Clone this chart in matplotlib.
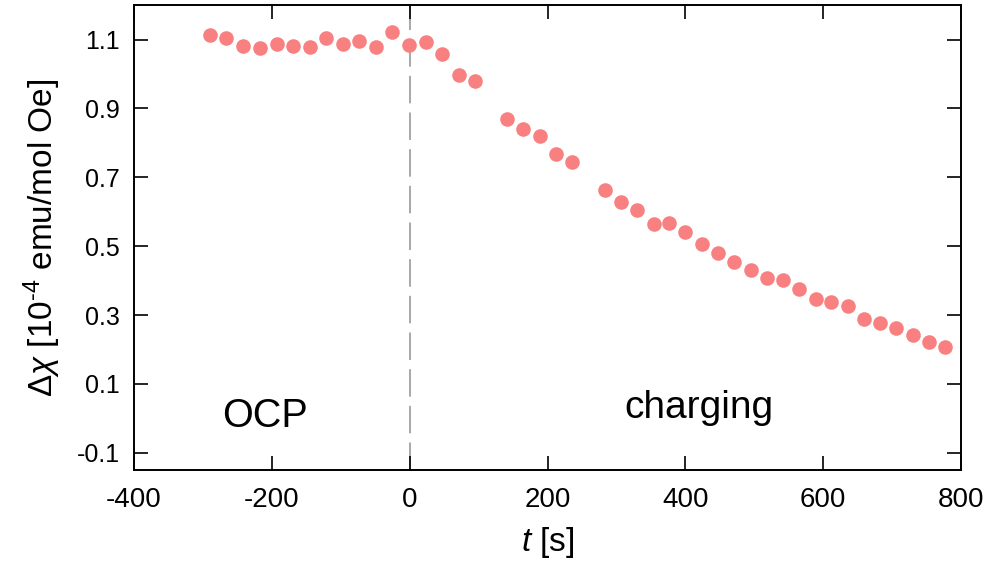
import numpy as np
import matplotlib
matplotlib.use('Agg')
import matplotlib.pyplot as plt

plt.rcParams['font.family'] = ['Liberation Sans', 'DejaVu Sans']
plt.rcParams['mathtext.fontset'] = 'custom'
plt.rcParams['mathtext.rm'] = 'Liberation Sans'
plt.rcParams['mathtext.it'] = 'Liberation Sans:italic'

# time [s] and susceptibility change [1e-4 emu/mol Oe]
t = [-290, -266, -242, -217, -193, -169, -145, -121, -97, -73, -49, -25,
     -1, 23, 47, 71, 95,
     141, 165, 189, 212, 235,
     283, 306, 330, 355, 377, 400, 424, 447, 471, 496, 518, 542, 565,
     589, 612, 636, 659, 682, 706, 730, 754, 777]
dchi = [1.112, 1.105, 1.081, 1.075, 1.088, 1.081, 1.078, 1.104, 1.086, 1.096, 1.078, 1.123,
        1.084, 1.094, 1.057, 0.998, 0.979,
        0.868, 0.840, 0.820, 0.767, 0.744,
        0.662, 0.627, 0.605, 0.563, 0.566, 0.541, 0.507, 0.479, 0.453, 0.430, 0.409, 0.403, 0.376,
        0.348, 0.337, 0.327, 0.290, 0.278, 0.261, 0.242, 0.221, 0.206]

fig = plt.figure(figsize=(9.86, 5.70), dpi=100)
ax = fig.add_axes([0.136, 0.1754, 0.8386, 0.8156])

ax.axvline(0, color='#999999', lw=1.2, ls=(0, (16.5, 5.5)), zorder=1)
ax.plot(t, dchi, 'o', color='#F88080', ms=10.5, mec='none', zorder=3)

ax.set_xlim(-400, 800)
ax.set_ylim(-0.15, 1.2)
ax.set_xticks([-400, -200, 0, 200, 400, 600, 800])
ax.set_yticks([-0.1, 0.1, 0.3, 0.5, 0.7, 0.9, 1.1])
ax.set_yticklabels(['-0.1', '0.1', '0.3', '0.5', '0.7', '0.9', '1.1'])
ax.set_xticklabels(['-400', '-200', '0', '200', '400', '600', '800'])
ax.tick_params(direction='in', length=10, width=1.2, top=True, right=True)
ax.tick_params(axis='y', labelsize=18, pad=10)
ax.tick_params(axis='x', labelsize=20, pad=12)
for s in ax.spines.values():
    s.set_linewidth(1.4)

ax.set_xlabel(r'$\mathit{t}$ [s]', fontsize=24, labelpad=9)
ax.set_ylabel('$\\mathit{Δχ}$ [10$^{\\text{-}4}$ emu/mol Oe]', fontsize=24, labelpad=10)

ax.text(-210, -0.025, 'OCP', fontsize=28.5, ha='center', va='baseline')
ax.text(420, 0.0, 'charging', fontsize=28, ha='center', va='baseline')

fig.savefig('out.png', dpi=100)
